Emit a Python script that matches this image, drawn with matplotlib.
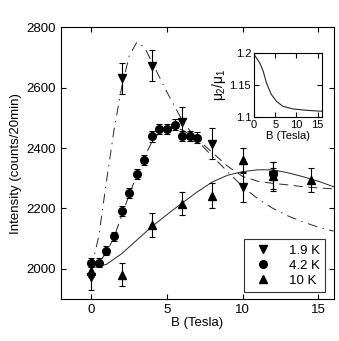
import numpy as np
import matplotlib.pyplot as plt
from matplotlib.lines import Line2D

plt.rcParams['font.family'] = ['Liberation Sans', 'DejaVu Sans']
plt.rcParams['mathtext.fontset'] = 'custom'
plt.rcParams['mathtext.rm'] = 'Liberation Sans'
plt.rcParams['mathtext.it'] = 'Liberation Sans'
plt.rcParams['lines.scale_dashes'] = False

# 1.9 K data
b19 = [0, 2, 4, 6, 8, 10, 12]
i19 = [1974, 2631, 2673, 2485, 2414, 2270, 2310]
e19 = [45, 52, 52, 51, 51, 48, 45]

# 4.2 K data
b42 = [0, 0.5, 1, 1.5, 2, 2.5, 3, 3.5, 4, 4.5, 5, 5.5, 6, 6.5, 7, 12]
i42 = [2020, 2020, 2060, 2108, 2191, 2252, 2315, 2361, 2439, 2463, 2463, 2478, 2440, 2440, 2435, 2315]
e42 = [15, 15, 15, 15, 16, 16, 17, 17, 18, 18, 18, 18, 18, 18, 18, 18]

# 10 K data
b10 = [0, 2, 4, 6, 8, 10, 12, 14.5]
i10 = [1992, 1981, 2145, 2215, 2242, 2361, 2306, 2295]
e10 = [20, 38, 40, 38, 42, 40, 48, 40]

# fitted curves
cb19 = [0, 0.5, 1, 1.5, 2, 2.5, 3, 3.5, 4, 5, 6, 7, 8, 9, 10, 11, 12, 13, 14, 15, 16]
ci19 = [2000, 2110, 2290, 2460, 2600, 2705, 2750, 2735, 2685, 2585, 2492, 2425, 2372, 2322, 2272, 2232, 2200, 2175, 2155, 2138, 2125]

cb42 = [0, 0.5, 1, 1.5, 2, 2.5, 3, 3.5, 4, 4.5, 5, 5.5, 6, 7, 8, 9, 10, 11, 12, 13, 14, 15, 16]
ci42 = [2005, 2020, 2055, 2105, 2175, 2245, 2310, 2370, 2420, 2452, 2465, 2468, 2460, 2430, 2385, 2340, 2306, 2290, 2283, 2278, 2272, 2268, 2265]

cb10 = [0, 1, 2, 3, 4, 5, 6, 7, 8, 9, 10, 11, 12, 13, 14, 15, 16]
ci10 = [2003, 2015, 2050, 2095, 2140, 2180, 2218, 2255, 2288, 2310, 2322, 2328, 2328, 2318, 2305, 2290, 2272]

# inset: mu2/mu1 vs B
ib = [0, 0.25, 1.4, 2.2, 2.95, 4.1, 5.3, 6.8, 9.2, 12.3, 16]
iv = [1.196, 1.1955, 1.184, 1.171, 1.153, 1.135, 1.1245, 1.1167, 1.1125, 1.1104, 1.1089]

labels = ['1.9 K', '4.2 K', '10 K']
markers = ['v', 'o', '^']

fig = plt.figure(figsize=(3.39, 3.41), dpi=100)
ax = fig.add_axes([0.18, 0.123, 0.804, 0.797])

ax.plot(cb19, ci19, color='0.15', lw=0.7, dashes=(7, 4, 1, 4))
ax.plot(cb42, ci42, color='0.15', lw=0.7, dashes=(6.5, 4))
ax.plot(cb10, ci10, '-', color='0.15', lw=0.7)

for b, i, e, m in zip([b19, b42, b10], [i19, i42, i10], [e19, e42, e10], markers):
    ax.errorbar(b, i, yerr=e, fmt='k' + m, ms=5.5, capsize=2.2,
                elinewidth=0.8, capthick=0.8)

ax.set_xlim(-2, 16)
ax.set_ylim(1900, 2800)
ax.set_xticks([0, 5, 10, 15])
ax.set_yticks([2000, 2200, 2400, 2600, 2800])
ax.tick_params(direction='in', top=True, right=True, labelsize=9.5)
ax.set_xlabel('B (Tesla)', fontsize=9.5, labelpad=1)
ax.set_ylabel('Intensity (counts/20min)', fontsize=9.5, labelpad=3)

handles = [Line2D([], [], ls='none', marker=m, color='k', ms=5.5) for m in markers]
leg = ax.legend(handles, labels, loc='lower right', fontsize=9.5, fancybox=False,
                edgecolor='k', handletextpad=1.0, borderpad=0.4, labelspacing=0.2,
                handlelength=2.0, bbox_to_anchor=(0.97, 0.026), borderaxespad=0)
leg.get_frame().set_linewidth(0.8)

ins = fig.add_axes([0.749, 0.657, 0.2006, 0.188])
ins.plot(ib, iv, '-', color='0.15', lw=0.8)
ins.set_xlim(0, 16)
ins.set_ylim(1.1, 1.2)
ins.set_xticks([0, 5, 10, 15])
ins.set_yticks([1.1, 1.15, 1.2])
ins.set_yticklabels(['1.1', '1.15', '1.2'])
ins.tick_params(direction='in', top=True, right=True, labelsize=8, pad=2)
ins.set_xlabel('B (Tesla)', fontsize=8, labelpad=1)
ins.set_ylabel('$\\mu_2/\\mu_1$', fontsize=10, labelpad=1)

fig.savefig('out.png', dpi=100)
